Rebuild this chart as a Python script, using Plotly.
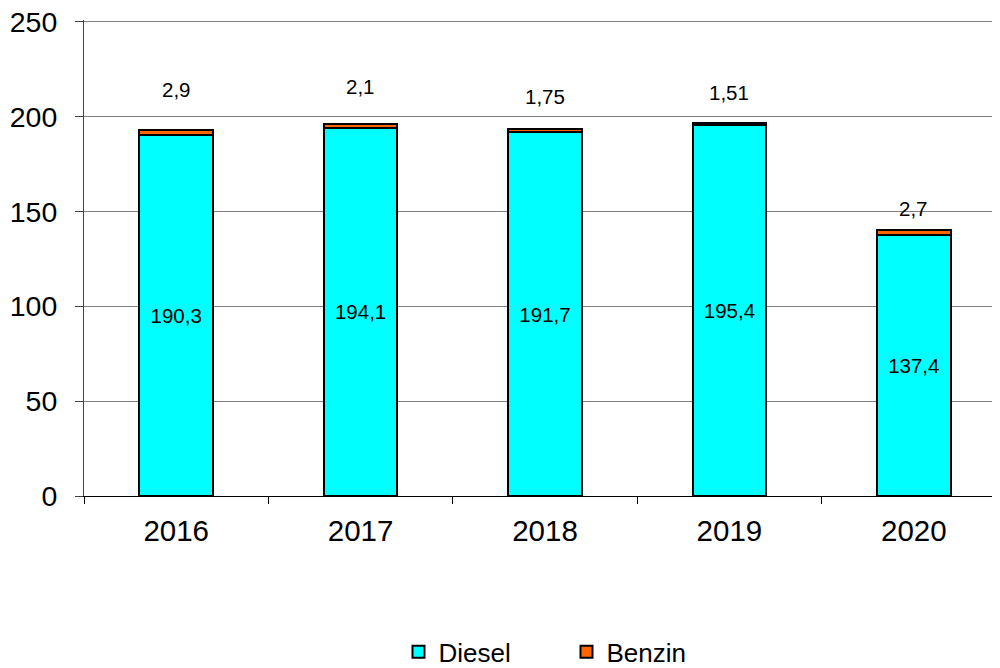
import plotly.graph_objects as go

years = ["2016", "2017", "2018", "2019", "2020"]
diesel = [190.3, 194.1, 191.7, 195.4, 137.4]
benzin = [2.9, 2.1, 1.75, 1.51, 2.7]
# pixel lift of the Benzin labels above the bar top (as placed in the original)
benzin_label_shift = [40, 37, 33, 30, 22]


def de_num(v):
    return str(v).replace(".", ",")


FONT = "Liberation Sans, Arial, sans-serif"

fig = go.Figure()

fig.add_trace(go.Bar(
    x=years, y=diesel, name="Diesel",
    marker=dict(color="#00FFFF", line=dict(color="black", width=2)),
    text=[de_num(v) for v in diesel],
    textposition="inside", insidetextanchor="middle",
    textfont=dict(size=20.5, color="black", family=FONT),
    hoverinfo="skip",
))

fig.add_trace(go.Bar(
    x=years, y=benzin, name="Benzin",
    marker=dict(color="#FF6600", line=dict(color="black", width=2)),
    hoverinfo="skip",
))

# Benzin labels sit above the stacks (x given as category index)
for i, (d, b, s) in enumerate(zip(diesel, benzin, benzin_label_shift)):
    fig.add_annotation(
        x=i, y=d + b, text=de_num(b), showarrow=False,
        yshift=s, yanchor="middle",
        font=dict(size=20.5, color="black", family=FONT),
    )

# the page body adds an 8px offset, so margins are trimmed to compensate
fig.update_layout(
    barmode="stack",
    bargap=0.6,
    width=1000, height=668,
    margin=dict(l=76, r=2, t=12, b=180),
    paper_bgcolor="white",
    plot_bgcolor="white",
    font=dict(family=FONT, color="black"),
    showlegend=True,
    legend=dict(
        orientation="h",
        traceorder="normal",
        xref="container", yref="container",
        x=0.5585, xanchor="center",
        y=0.036, yanchor="middle",
        font=dict(size=26, family=FONT),
        entrywidth=123, entrywidthmode="pixels",
        itemsizing="constant",
    ),
)

fig.update_xaxes(
    type="category",
    range=[-0.5, 4.5],
    automargin=False,
    showline=True, linecolor="black", linewidth=1,
    ticks="outside", ticklen=7, tickcolor="black",
    tickson="boundaries",
    tickangle=0,
    ticklabelstandoff=9,
    tickfont=dict(size=29.5, family=FONT),
    showgrid=False,
)

# a little headroom above 250 so its gridline is drawn
fig.update_yaxes(
    range=[0, 251],
    tickvals=[0, 50, 100, 150, 200, 250],
    automargin=False,
    ticklabeloverflow="allow",
    showline=True, linecolor="#404040", linewidth=1,
    ticks="outside", ticklen=8, tickcolor="#404040",
    ticklabelstandoff=12,
    tickfont=dict(size=28.5, family=FONT),
    showgrid=True, gridcolor="#808080", gridwidth=1,
    zeroline=False,
)

fig.write_html("out.html")
